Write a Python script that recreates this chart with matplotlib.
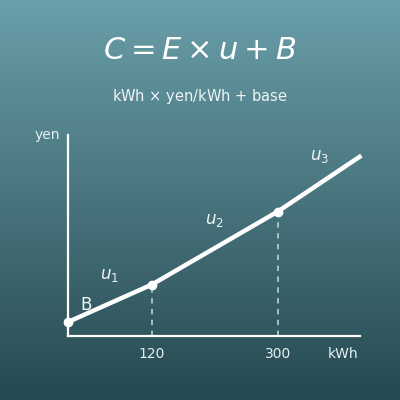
import numpy as np
import matplotlib
matplotlib.use('Agg')
import matplotlib.pyplot as plt
from matplotlib.colors import LinearSegmentedColormap

# === DATA ===
kwh = [0, 120, 300, 420]          # tier boundaries (kWh)
rates = [20, 26, 30]              # yen/kWh per tier
base = 900                        # base charge (yen)
tick_vals = [120, 300]
tick_labels = ['120', '300']
rate_labels = ['$u_1$', '$u_2$', '$u_3$']

# cumulative cost at each boundary
cost = [base]
for i, r in enumerate(rates):
    cost.append(cost[-1] + r * (kwh[i + 1] - kwh[i]))

# === FIGURE ===
fig = plt.figure(figsize=(4, 4), dpi=100)

# gradient background
bg = fig.add_axes([0, 0, 1, 1])
cmap = LinearSegmentedColormap.from_list('bg', ['#6a9fa9', '#264951'])
bg.imshow(np.linspace(0, 1, 256).reshape(-1, 1), aspect='auto', cmap=cmap,
          extent=[0, 1, 0, 1])
bg.axis('off')

fig.text(0.5, 0.873, r'$C = E \times u + B$', color='white', fontsize=22,
         ha='center', va='center')
fig.text(0.5, 0.76, r'kWh $\times$ yen/kWh $+$ base', color='#eef5f6', fontsize=10.5,
         ha='center', va='center')

ax = fig.add_axes([0.17, 0.16, 0.73, 0.5025])
ax.patch.set_alpha(0)
ax.set_xlim(0, 418)
ax.set_ylim(0, 12900)

for s in ['top', 'right']:
    ax.spines[s].set_visible(False)
for s in ['left', 'bottom']:
    ax.spines[s].set_color('white')
    ax.spines[s].set_linewidth(1.6)

ax.set_xticks(tick_vals)
ax.set_xticklabels(tick_labels)
ax.set_yticks([])
ax.tick_params(axis='x', length=0, colors='#e6f0f1', labelsize=10, pad=8)

# dashed guides
for x, y in zip(kwh[1:3], cost[1:3]):
    ax.plot([x, x], [0, y], ls=(0, (3, 3)), color='#cfe0e3', lw=1.3, alpha=0.8)

ax.plot(kwh, cost, color='white', lw=3.2, solid_capstyle='butt', clip_on=False)
ax.plot(kwh[:3], cost[:3], 'o', color='white', ms=6, clip_on=False, zorder=5)

# tier labels
for i, lab in enumerate(rate_labels):
    xm = (kwh[i] + kwh[i + 1]) / 2
    ym = (cost[i] + cost[i + 1]) / 2
    ax.text(xm, ym + 1800, lab, color='#eef5f6',
            fontsize=12, ha='center', va='center')
ax.text(26, cost[0] + 1100, 'B', color='#eef5f6', fontsize=12, ha='center', va='center')

ax.text(-30, 12900, 'yen', color='#e6f0f1', fontsize=10, ha='center', va='center')
ax.text(394, -1150, 'kWh', color='#e6f0f1', fontsize=10, ha='center', va='center')

fig.savefig('out.png', dpi=100)
